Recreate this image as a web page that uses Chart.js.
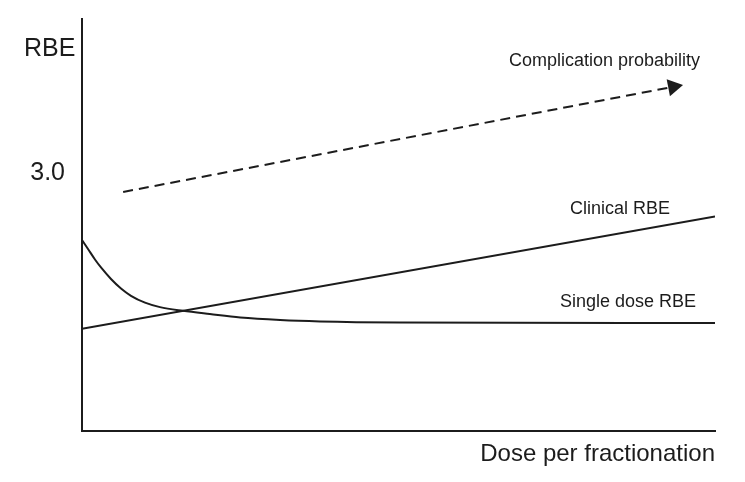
<!DOCTYPE html>
<html>
<head>
<meta charset="utf-8">
<script src="https://cdn.jsdelivr.net/npm/chart.js@4"></script>
<style>
  html, body { margin: 0; padding: 0; background: #fff; }
  #wrap { width: 745px; height: 482px; }
</style>
</head>
<body>
<div id="wrap"><canvas id="rbe-chart"></canvas></div>
<script>
// values (x: dose, arbitrary units 0-10; y: RBE)
const singleDoseX = [0, 0.095, 0.205, 0.3, 0.458, 0.616, 0.774, 0.995, 1.232, 1.596, 2.02, 2.5, 3.13, 3.76, 5.02, 10];
const singleDoseRBE = [2.225, 2.12, 1.998, 1.905, 1.771, 1.66, 1.575, 1.495, 1.443, 1.4, 1.362, 1.322, 1.293, 1.277, 1.265, 1.258];
const clinicalX = [0, 10];
const clinicalRBE = [1.19, 2.5];
const complicationX = [0.65, 9.34];
const complicationY = [2.785, 4.01];
const yTicks = [3.0];

const toPoints = (xs, ys) => xs.map((x, i) => ({ x: x, y: ys[i] }));
const ink = '#1c1c1c';
const font = "'Liberation Sans', Arial, sans-serif";

// labels drawn on top of the plot
const labels = {
    id: 'labels',
    afterDraw(chart) {
        const { ctx, scales: { x } } = chart;
        ctx.save();
        ctx.fillStyle = ink;
        ctx.textBaseline = 'alphabetic';
        ctx.textAlign = 'left';
        ctx.font = `25px ${font}`;
        ctx.fillText('RBE', 24, 56);
        ctx.textAlign = 'right';
        ctx.font = `24px ${font}`;
        ctx.fillText('Dose per fractionation', x.right, 461);
        ctx.font = `18px ${font}`;
        ctx.textAlign = 'left';
        ctx.fillText('Complication probability', 509, 66);
        ctx.fillText('Clinical RBE', 570, 214);
        ctx.fillText('Single dose RBE', 560, 307);
        ctx.restore();
    }
};

new Chart(document.getElementById('rbe-chart'), {
    type: 'line',
    data: {
        datasets: [
            {
                label: 'Single dose RBE',
                data: toPoints(singleDoseX, singleDoseRBE),
                borderColor: ink,
                borderWidth: 2,
                pointRadius: 0,
                cubicInterpolationMode: 'monotone'
            },
            {
                label: 'Clinical RBE',
                data: toPoints(clinicalX, clinicalRBE),
                borderColor: ink,
                borderWidth: 2,
                pointRadius: 0
            },
            {
                label: 'Complication probability',
                data: toPoints(complicationX, complicationY),
                borderColor: ink,
                borderWidth: 2,
                borderDash: [10, 6],
                pointRadius: [0, 10],
                pointStyle: 'triangle',
                rotation: 79.2,
                pointBackgroundColor: ink,
                pointBorderColor: ink,
                pointBorderWidth: 0
            }
        ]
    },
    options: {
        responsive: true,
        maintainAspectRatio: false,
        animation: false,
        events: [],
        layout: { padding: { top: 19, right: 30, left: 0, bottom: 0 } },
        plugins: { legend: { display: false }, tooltip: { enabled: false } },
        scales: {
            x: {
                type: 'linear',
                min: 0,
                max: 10,
                grid: { display: false },
                border: { display: true, color: ink, width: 2 },
                ticks: { display: false },
                afterFit: (scale) => { scale.height = 51; scale.paddingLeft = 0; scale.paddingRight = 0; }
            },
            y: {
                type: 'linear',
                min: 0,
                max: 4.8,
                grid: { display: false },
                border: { display: true, color: ink, width: 2 },
                afterBuildTicks: (scale) => { scale.ticks = yTicks.map(v => ({ value: v })); },
                ticks: {
                    color: ink,
                    font: { size: 25, family: font },
                    padding: 9,
                    callback: (v) => v.toFixed(1)
                },
                afterFit: (scale) => { scale.width = 82; scale.paddingTop = 0; scale.paddingBottom = 0; }
            }
        }
    },
    plugins: [labels]
});
</script>
</body>
</html>
